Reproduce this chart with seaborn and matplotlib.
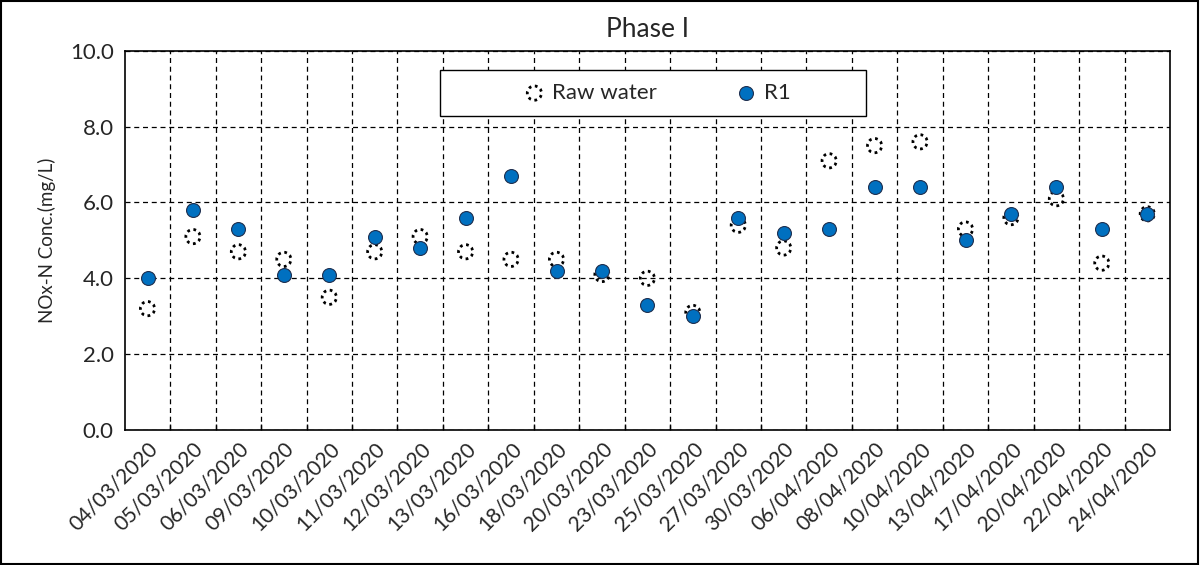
import matplotlib
matplotlib.use("Agg")
import matplotlib.pyplot as plt
from matplotlib.patches import Rectangle
from matplotlib.ticker import FixedLocator, FormatStrFormatter
import seaborn as sns
import pandas as pd

dates = ["04/03/2020", "05/03/2020", "06/03/2020", "09/03/2020", "10/03/2020",
         "11/03/2020", "12/03/2020", "13/03/2020", "16/03/2020", "18/03/2020",
         "20/03/2020", "23/03/2020", "25/03/2020", "27/03/2020", "30/03/2020",
         "06/04/2020", "08/04/2020", "10/04/2020", "13/04/2020", "17/04/2020",
         "20/04/2020", "22/04/2020", "24/04/2020"]
raw_water = [3.2, 5.1, 4.7, 4.5, 3.5, 4.7, 5.1, 4.7, 4.5, 4.5, 4.1, 4.0,
             3.1, 5.4, 4.8, 7.1, 7.5, 7.6, 5.3, 5.6, 6.1, 4.4, 5.7]
r1 = [4.0, 5.8, 5.3, 4.1, 4.1, 5.1, 4.8, 5.6, 6.7, 4.2, 4.2, 3.3,
      3.0, 5.6, 5.2, 5.3, 6.4, 6.4, 5.0, 5.7, 6.4, 5.3, 5.7]
y_ticks = [0.0, 2.0, 4.0, 6.0, 8.0, 10.0]

sns.set_theme(style="white")
plt.rcParams["font.family"] = ["Lato", "DejaVu Sans"]

df = pd.DataFrame({"date": dates, "Raw water": raw_water, "R1": r1})

fig = plt.figure(figsize=(12, 5.65), dpi=100)
ax = fig.add_axes([0.104, 0.239, 0.871, 0.671])

sns.scatterplot(data=df, x="date", y="Raw water", ax=ax, s=105,
                facecolors="none", edgecolor="black", linewidth=2.0,
                linestyle=(0, (1.0, 1.3)), label="Raw water", zorder=3)
sns.scatterplot(data=df, x="date", y="R1", ax=ax, s=100,
                color="#0070C0", edgecolor="#1F2F4F", linewidth=0.8,
                label="R1", zorder=4)

n = len(dates)
ax.set_xlim(-0.5, n - 0.5)
ax.set_ylim(0, 10)
ax.yaxis.set_major_locator(FixedLocator(y_ticks))
ax.yaxis.set_major_formatter(FormatStrFormatter("%.1f"))
ax.xaxis.set_minor_locator(FixedLocator([i + 0.5 for i in range(n - 1)]))

ax.grid(False)
ax.grid(axis="y", which="major", color="black", linestyle=(0, (4, 3)), linewidth=0.9)
ax.grid(axis="x", which="minor", color="black", linestyle=(0, (4, 3)), linewidth=0.9)
ax.set_axisbelow(True)

ax.tick_params(axis="x", which="major", length=0, pad=6, labelsize=15)
ax.tick_params(axis="x", which="minor", direction="in", length=4, color="black", bottom=True)
ax.tick_params(axis="y", length=0, labelsize=16, pad=8)
plt.setp(ax.get_xticklabels(), rotation=45, ha="right", rotation_mode="anchor")

for sp in ax.spines.values():
    sp.set_color("black")
    sp.set_linewidth(1.2)

ax.set_xlabel("")
ax.set_ylabel("NOx-N Conc.(mg/L)", fontsize=13.5, labelpad=10)
ax.set_title("Phase I", fontsize=19, pad=10)

# legend box
ax.add_patch(Rectangle((0.302, 0.828), 0.407, 0.122, transform=ax.transAxes,
                       facecolor="white", edgecolor="black", linewidth=1.0, zorder=5))
leg = ax.legend(loc="center", bbox_to_anchor=(0.508, 0.889), ncol=2, frameon=False,
                fontsize=16, columnspacing=3.4, handletextpad=0.2, handlelength=1.2)
leg.set_zorder(6)

fig.add_artist(Rectangle((0.001, 0.002), 0.997, 0.996, transform=fig.transFigure,
                         fill=False, edgecolor="black", linewidth=1.5))

fig.savefig("out.png", dpi=100)
